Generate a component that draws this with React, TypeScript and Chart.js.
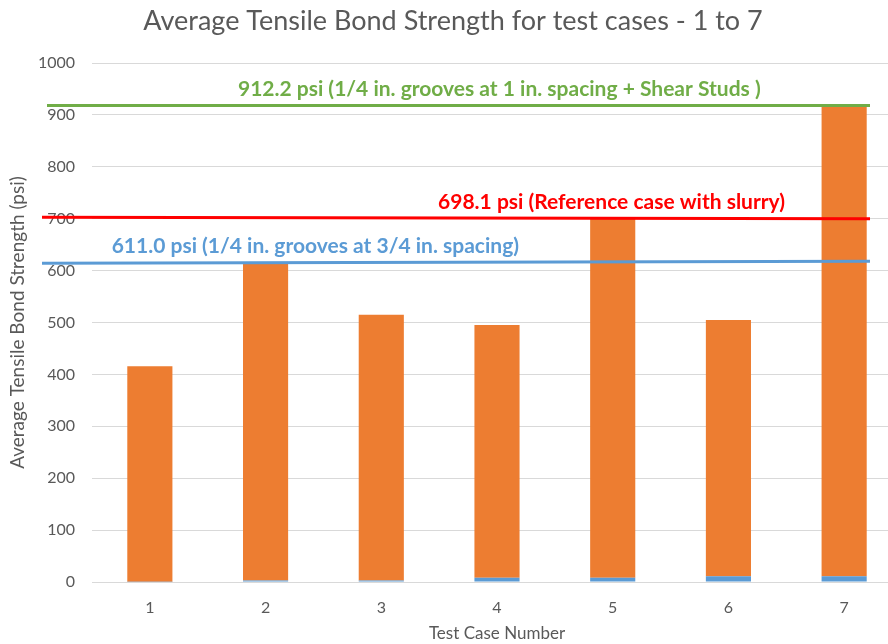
import React, { useEffect, useRef } from "react";
import { Chart, registerables } from "chart.js";

Chart.register(...registerables);

const categories = ["1", "2", "3", "4", "5", "6", "7"];
const baseValues = [0.5, 3, 3, 8, 8, 11, 11];
const strengthValues = [415, 610, 512, 487, 694, 494, 904];
const refLabels = [
  "912.2 psi (1/4 in. grooves at 1 in. spacing + Shear Studs )",
  "698.1 psi (Reference case with slurry)",
  "611.0 psi (1/4 in. grooves at 3/4 in. spacing)",
];
const refStartValues = [918, 703, 614];
const refEndValues = [918, 700, 618];
const refColors = ["#70AD47", "#FF0000", "#5B9BD5"];
const refLabelAt = [3.02, 3.99, 1.43];
const FONT = "Lato, 'Open Sans', sans-serif";

const refLinesPlugin = {
  id: "refLines",
  afterDatasetsDraw(chart: any) {
    const { ctx } = chart;
    const y = chart.scales.y;
    const x = chart.scales.x;
    ctx.save();
    refLabels.forEach((label, i) => {
      const y0 = y.getPixelForValue(refStartValues[i]);
      const y1 = y.getPixelForValue(refEndValues[i]);
      ctx.strokeStyle = refColors[i];
      ctx.lineWidth = 3;
      ctx.beginPath();
      ctx.moveTo(i === 0 ? 47 : 42, y0);
      ctx.lineTo(870, y1);
      ctx.stroke();
      ctx.fillStyle = refColors[i];
      ctx.font = `bold 21px ${FONT}`;
      ctx.textAlign = "center";
      ctx.textBaseline = "middle";
      const lx = x.getPixelForValue(refLabelAt[i]);
      const ly = y.getPixelForValue((refStartValues[i] + refEndValues[i]) / 2);
      ctx.fillText(label, lx, ly - 16);
    });
    ctx.restore();
  },
};

const titlePlugin = {
  id: "customTitle",
  afterDraw(chart: any) {
    const { ctx } = chart;
    ctx.save();
    ctx.fillStyle = "#595959";
    ctx.font = `27px ${FONT}`;
    ctx.textAlign = "center";
    ctx.textBaseline = "middle";
    ctx.fillText("Average Tensile Bond Strength for test cases - 1 to 7", 453, 21);
    ctx.restore();
  },
};

export default function App() {
  const ref = useRef<HTMLCanvasElement | null>(null);
  useEffect(() => {
    if (!ref.current) return;
    const chart = new Chart(ref.current, {
      type: "bar",
      data: {
        labels: categories,
        datasets: [
          {
            label: "base",
            data: baseValues,
            backgroundColor: "#5B9BD5",
            barPercentage: 0.39,
            categoryPercentage: 1,
          },
          {
            label: "strength",
            data: strengthValues,
            backgroundColor: "#ED7D31",
            barPercentage: 0.39,
            categoryPercentage: 1,
          },
        ],
      },
      options: {
        animation: false,
        responsive: false,
        maintainAspectRatio: false,
        layout: { padding: { left: 0, right: 3, top: 63, bottom: 0 } },
        plugins: {
          legend: { display: false },
          tooltip: { enabled: false },
          title: { display: false },
        },
        scales: {
          x: {
            stacked: true,
            grid: { display: false, drawTicks: false },
            border: { display: false },
            ticks: {
              color: "#595959",
              font: { family: FONT, size: 16 },
              padding: 16,
            },
            title: {
              display: true,
              text: "Test Case Number",
              color: "#595959",
              font: { family: FONT, size: 17 },
              padding: { top: 4, bottom: 0 },
            },
            afterFit(scale: any) {
              scale.height = 62;
            },
          },
          y: {
            stacked: true,
            min: 0,
            max: 1000,
            grid: { color: "#D9D9D9", drawTicks: false, lineWidth: 1 },
            border: { display: false },
            ticks: {
              stepSize: 100,
              color: "#595959",
              font: { family: FONT, size: 16 },
              padding: 17,
              callback: (v: any) => String(v),
            },
            title: {
              display: true,
              text: "Average Tensile Bond Strength (psi)",
              color: "#595959",
              font: { family: FONT, size: 19 },
              padding: { top: 6, bottom: 0 },
            },
            afterFit(scale: any) {
              scale.width = 92;
            },
          },
        },
      },
      plugins: [refLinesPlugin, titlePlugin],
    });
    return () => chart.destroy();
  }, []);
  return (
    <div
      style={{
        position: "fixed",
        left: 0,
        top: 0,
        width: 888,
        height: 644,
        overflow: "hidden",
        background: "#fff",
      }}
    >
      <canvas ref={ref} width={905} height={644} style={{ display: "block" }} />
    </div>
  );
}
